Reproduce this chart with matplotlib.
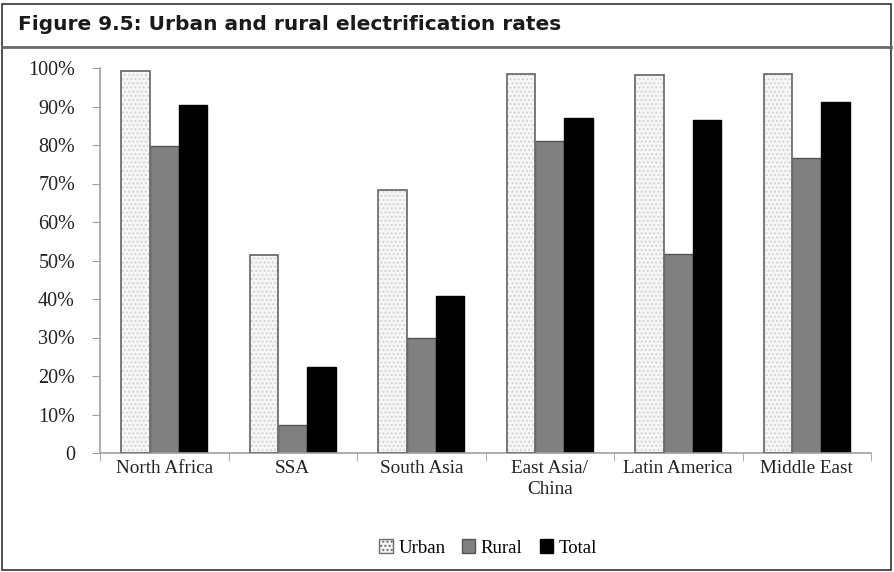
import matplotlib
matplotlib.use("Agg")
import matplotlib.pyplot as plt
import numpy as np
from matplotlib.patches import Rectangle, Patch
from matplotlib.lines import Line2D

regions = ["North Africa", "SSA", "South Asia", "East Asia/\nChina", "Latin America", "Middle East"]
urban = [99.3, 51.3, 68.2, 98.5, 98.2, 98.5]
rural = [79.8, 7.3, 29.9, 81.0, 51.7, 76.6]
total = [90.4, 22.4, 40.8, 86.9, 86.6, 91.2]
ytick_vals = [0, 10, 20, 30, 40, 50, 60, 70, 80, 90, 100]
ytick_labels = ["0"] + [f"{v}%" for v in ytick_vals[1:]]

plt.rcParams['font.family'] = ['Liberation Serif', 'DejaVu Serif']

fig = plt.figure(figsize=(8.94, 5.72), dpi=100)
ax = fig.add_axes([100 / 894, 1 - 453 / 572, 771 / 894, 385 / 572])

x = np.arange(len(regions))
w = 0.222

# urban bars: stippled fill, then outline on top
ax.bar(x - w, urban, w, color="#f7f7f7", edgecolor="#d4d4d4", hatch="....", linewidth=0, zorder=2)
ax.bar(x - w, urban, w, fill=False, edgecolor="#6e6e6e", linewidth=1.3, zorder=3)
ax.bar(x, rural, w, color="#808080", edgecolor="#555555", linewidth=1.0, zorder=2)
ax.bar(x + w, total, w, color="#000000", edgecolor="#000000", linewidth=1.0, zorder=2)

ax.set_xlim(-0.5, len(regions) - 0.5)
ax.set_ylim(0, 100)
ax.set_yticks(ytick_vals)
ax.set_yticklabels(ytick_labels, fontsize=14.5, color="#222222")
ax.set_xticks(x)
ax.set_xticklabels(regions, fontsize=13.8, color="#222222", linespacing=1.35)
ax.tick_params(axis="x", length=0, pad=5)
ax.tick_params(axis="y", length=6, color="#a0a0a0", direction="out", pad=12)
# separators between categories on the x axis
ax.set_xticks(np.arange(len(regions) + 1) - 0.5, minor=True)
ax.tick_params(axis="x", which="minor", length=6, color="#a0a0a0", direction="out")

for s in ["top", "right"]:
    ax.spines[s].set_visible(False)
for s in ["left", "bottom"]:
    ax.spines[s].set_color("#a0a0a0")
    ax.spines[s].set_linewidth(1.2)

# frame and header
fig.add_artist(Rectangle((2 / 894, 2 / 572), 889 / 894, 566 / 572, transform=fig.transFigure,
                         fill=False, edgecolor="#333333", linewidth=1.2))
fig.add_artist(Line2D([2 / 894, 891 / 894], [1 - 47 / 572, 1 - 47 / 572], transform=fig.transFigure,
                      color="#6a6a6a", linewidth=2))
fig.text(18 / 894, 1 - 25 / 572, "Figure 9.5: Urban and rural electrification rates",
         fontsize=14.5, fontweight="bold", va="center", ha="left", color="#1a1a1a",
         family=['Liberation Sans Narrow', 'DejaVu Sans'])

handles = [Patch(facecolor="#f4f4f4", edgecolor="#6e6e6e", hatch="...."),
           Patch(facecolor="#808080", edgecolor="#555555"),
           Patch(facecolor="#000000", edgecolor="#000000")]
fig.legend(handles, ["Urban", "Rural", "Total"], loc="center", bbox_to_anchor=(488 / 894, 1 - 548 / 572),
           ncol=3, frameon=False, fontsize=13.5, handlelength=0.7, handleheight=0.7,
           handletextpad=0.3, columnspacing=0.9)

fig.savefig("out.png", dpi=100)
